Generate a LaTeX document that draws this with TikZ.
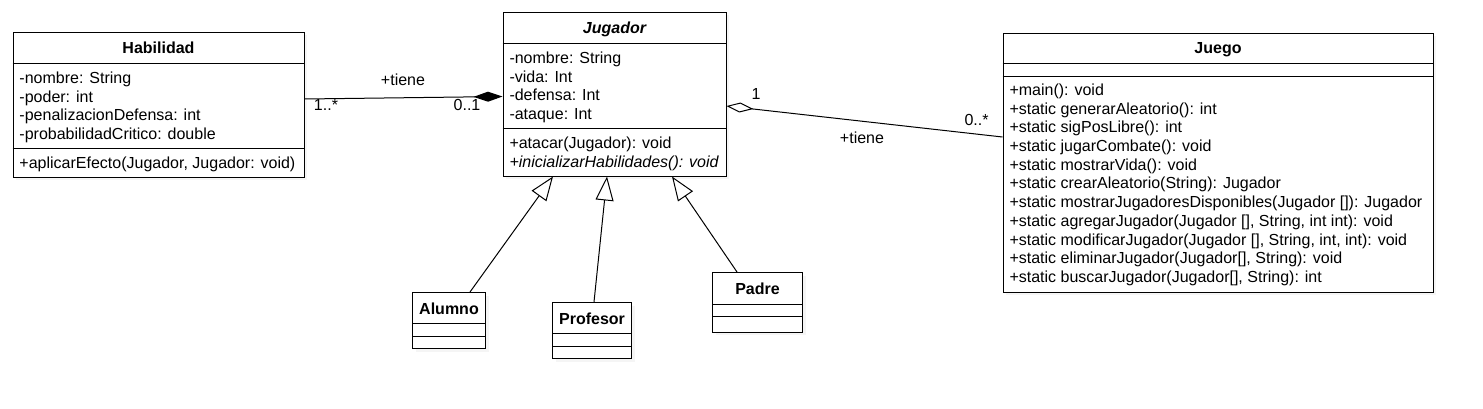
\documentclass[tikz,border=0pt]{standalone}
\usepackage{fontspec}
\setmainfont{Liberation Sans}
\usetikzlibrary{arrows.meta,shadows}

\tikzset{
    umlclass/.style={draw, fill=white, inner sep=0pt, drop shadow={shadow xshift=3pt, shadow yshift=-3pt, fill=black!8}},
    members/.style={anchor=north west, inner sep=0pt, align=left, font=\fontsize{16}{18.7}\selectfont},
    classname/.style={anchor=base, inner sep=0pt, font=\fontsize{16}{18.7}\selectfont\bfseries},
    rolelabel/.style={anchor=base, inner sep=0pt, font=\fontsize{16}{18.7}\selectfont},
    inherits/.style={-{Triangle[open, length=24pt, width=18pt]}},
    composition/.style={-{Diamond[length=29pt, width=10pt]}},
    aggregation/.style={-{Diamond[open, length=27pt, width=10pt]}},
}

\begin{document}
\begin{tikzpicture}[x=1pt, y=-1pt, line width=1pt]
    \useasboundingbox (0,0) rectangle (1483,408);

    % classes
    \node[umlclass, minimum width=291pt, minimum height=145pt] (habilidad) at (158.5,104.5) {};
    \node[umlclass, minimum width=223pt, minimum height=164pt] (jugador) at (614.5,94) {};
    \node[umlclass, minimum width=430pt, minimum height=259pt] (juego) at (1218,162.5) {};
    \node[umlclass, minimum width=73pt, minimum height=56pt] (alumno) at (449,320.5) {};
    \node[umlclass, minimum width=79pt, minimum height=56pt] (profesor) at (592,330.5) {};
    \node[umlclass, minimum width=90pt, minimum height=59.5pt] (padre) at (757.5,302.25) {};

    % compartments
    \draw (habilidad.west |- 0,63) -- (habilidad.east |- 0,63);
    \draw (habilidad.west |- 0,148) -- (habilidad.east |- 0,148);
    \draw (jugador.west |- 0,43) -- (jugador.east |- 0,43);
    \draw (jugador.west |- 0,128) -- (jugador.east |- 0,128);
    \draw (juego.west |- 0,63) -- (juego.east |- 0,63);
    \draw (juego.west |- 0,76) -- (juego.east |- 0,76);
    \draw (alumno.west |- 0,323.5) -- (alumno.east |- 0,323.5);
    \draw (alumno.west |- 0,336) -- (alumno.east |- 0,336);
    \draw (profesor.west |- 0,333.5) -- (profesor.east |- 0,333.5);
    \draw (profesor.west |- 0,346) -- (profesor.east |- 0,346);
    \draw (padre.west |- 0,304) -- (padre.east |- 0,304);
    \draw (padre.west |- 0,316) -- (padre.east |- 0,316);

    % names
    \node[classname] (habilidadname) at (158.5,53.5) {Habilidad};
    \node[classname, font=\fontsize{16}{18.7}\selectfont\bfseries\itshape] (jugadorname) at (614.5,33.5) {Jugador};
    \node[classname] (juegoname) at (1218,53.5) {Juego};
    \node[classname] (alumnoname) at (449,314) {Alumno};
    \node[classname] (profesorname) at (592,324) {Profesor};
    \node[classname] (padrename) at (757.5,294) {Padre};

    % attributes and operations
    \node[members] (habilidadattr) at (19,69.9) {\strut-nombre: String\\-poder: int\\-penalizacionDefensa: int\\-probabilidadCritico: double};
    \node[members] (habilidadops) at (19,154.9) {\strut+aplicarEfecto(Jugador, Jugador: void)};
    \node[members] (jugadorattr) at (509,49.9) {\strut-nombre: String\\-vida: Int\\-defensa: Int\\-ataque: Int};
    \node[members] (jugadorops) at (509,134.9) {\strut+atacar(Jugador): void\\\textit{+inicializarHabilidades(): void}};
    \node[members] (juegoops) at (1009,81.9) {\strut+main(): void\\+static generarAleatorio(): int\\+static sigPosLibre(): int\\+static jugarCombate(): void\\+static mostrarVida(): void\\+static crearAleatorio(String): Jugador\\+static mostrarJugadoresDisponibles(Jugador {[]}): Jugador\\+static agregarJugador(Jugador {[]}, String, int int): void\\+static modificarJugador(Jugador {[]}, String, int, int): void\\+static eliminarJugador(Jugador{[]}, String): void\\+static buscarJugador(Jugador{[]}, String): int};

    % relations
    \draw[composition] (habilidad.east |- 0,99) -- (jugador.west |- 0,96.5);
    \node[rolelabel] (tieneh) at (403,85.5) {+tiene};
    \node[rolelabel] (multh) at (326,110) {1..*};
    \node[rolelabel] (multj) at (467,110) {0..1};

    \draw[aggregation] (juego.west |- 0,137) -- (jugador.east |- 0,106);
    \node[rolelabel] (multjj) at (756,99) {1};
    \node[rolelabel] (multjg) at (976.5,125) {0..*};
    \node[rolelabel] (tienej) at (862,143.3) {+tiene};

    \draw[inherits] (alumno.north -| 470,0) -- (jugador.south -| 553,0);
    \draw[inherits] (profesor.north -| 594,0) -- (jugador.south -| 607,0);
    \draw[inherits] (padre.north -| 737,0) -- (jugador.south -| 672,0);
\end{tikzpicture}
\end{document}
